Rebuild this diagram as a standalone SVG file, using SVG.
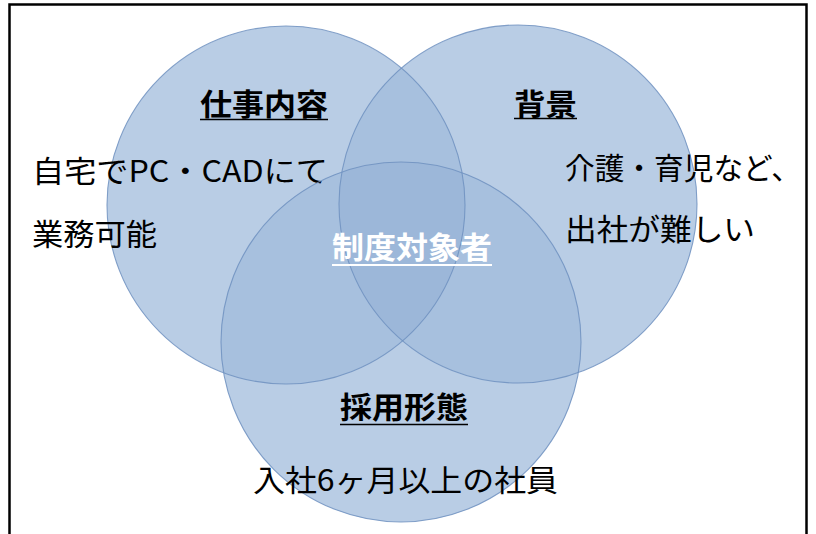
<svg xmlns="http://www.w3.org/2000/svg" width="816" height="534" viewBox="0 0 816 534">
<defs>
<style>
.fill1{fill:#b9cde5}
.fill2{fill:#a7c0de}
.fill3{fill:#9cb7d9}
.edge{fill:none;stroke:#6f90c0;stroke-width:1.1;stroke-opacity:0.85}
.t{font-family:"Noto Sans CJK JP","Noto Sans",sans-serif;font-size:30px;fill:#000}
.b{font-weight:bold}
.w{fill:#fff}
.ul{stroke:#000;stroke-width:1.6}
.ulw{stroke:#fff;stroke-width:2}
</style>
<clipPath id="cL"><circle cx="286" cy="205" r="179"/></clipPath>
<clipPath id="cR"><circle cx="518" cy="204" r="179"/></clipPath>
<clipPath id="cB"><circle cx="401" cy="342" r="180"/></clipPath>
</defs>
<rect x="0" y="0" width="816" height="534" fill="#fff"/>
<rect x="9.5" y="4.5" width="797" height="545" fill="none" stroke="#000" stroke-width="2.5"/>
<g id="fills">
<circle class="fill1" cx="286" cy="205" r="179"/>
<circle class="fill1" cx="518" cy="204" r="179"/>
<circle class="fill1" cx="401" cy="342" r="180"/>
<circle class="fill2" cx="518" cy="204" r="179" clip-path="url(#cL)"/>
<circle class="fill2" cx="401" cy="342" r="180" clip-path="url(#cL)"/>
<circle class="fill2" cx="401" cy="342" r="180" clip-path="url(#cR)"/>
<g clip-path="url(#cR)"><circle class="fill3" cx="401" cy="342" r="180" clip-path="url(#cL)"/></g>
</g>
<g id="connectors"/>
<g id="node-shigoto">
<circle class="edge" cx="286" cy="205" r="179"/>
<text class="t b" x="200" y="115" textLength="128" lengthAdjust="spacingAndGlyphs">仕事内容</text>
<line class="ul" x1="200" y1="119.5" x2="328" y2="119.5"/>
<text class="t" x="32" y="182" textLength="296" lengthAdjust="spacingAndGlyphs">自宅でPC・CADにて</text>
<text class="t" x="32" y="245" textLength="125" lengthAdjust="spacingAndGlyphs">業務可能</text>
</g>
<g id="node-haikei">
<circle class="edge" cx="518" cy="204" r="179"/>
<text class="t b" x="514" y="115" textLength="63" lengthAdjust="spacingAndGlyphs">背景</text>
<line class="ul" x1="514" y1="118.5" x2="577" y2="118.5"/>
<text class="t" x="565" y="179" textLength="236" lengthAdjust="spacingAndGlyphs">介護・育児など、</text>
<text class="t" x="565" y="240" textLength="190" lengthAdjust="spacingAndGlyphs">出社が難しい</text>
</g>
<g id="node-saiyou">
<circle class="edge" cx="401" cy="342" r="180"/>
<text class="t b" x="340" y="418" textLength="128" lengthAdjust="spacingAndGlyphs">採用形態</text>
<line class="ul" x1="340" y1="424.5" x2="468" y2="424.5"/>
<text class="t" x="253" y="491" textLength="305" lengthAdjust="spacingAndGlyphs">入社6ヶ月以上の社員</text>
</g>
<g id="node-center">
<text class="t b w" x="332" y="258" textLength="160" lengthAdjust="spacingAndGlyphs">制度対象者</text>
<line class="ulw" x1="332" y1="265" x2="492" y2="265"/>
</g>
</svg>
